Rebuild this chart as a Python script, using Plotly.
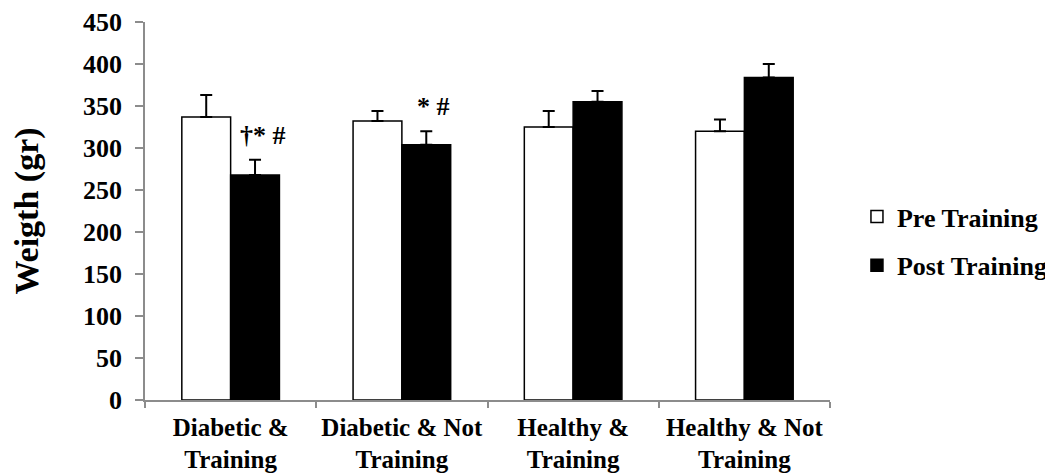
import plotly.graph_objects as go

categories = ["Diabetic &<br>Training", "Diabetic & Not<br>Training", "Healthy &<br>Training", "Healthy & Not<br>Training"]
pre_values = [337, 332, 325, 320]
pre_errors = [26, 12, 19, 14]
post_values = [268, 304, 355, 384]
post_errors = [18, 16, 13, 16]
y_ticks = [0, 50, 100, 150, 200, 250, 300, 350, 400, 450]
marks = ["†* #", "* #", "", ""]
mark_y = [315, 350, None, None]

FONT = "Liberation Serif, Times New Roman, serif"
AXIS_GRAY = "#8c8c8c"

fig = go.Figure()
fig.add_trace(go.Bar(
    name="<b>Pre Training</b>", x=categories, y=pre_values,
    marker=dict(color="white", line=dict(color="black", width=1.5)),
    error_y=dict(type="data", array=pre_errors, arrayminus=[0]*4, symmetric=False,
                 color="black", thickness=2, width=6),
    legendgroup="pre",
))
fig.add_trace(go.Bar(
    name="<b>Post Training</b>", x=categories, y=post_values,
    marker=dict(color="black", line=dict(color="black", width=1.5)),
    error_y=dict(type="data", array=post_errors, arrayminus=[0]*4, symmetric=False,
                 color="black", thickness=2, width=6),
    legendgroup="post",
))

for c, m, yy in zip(categories, marks, mark_y):
    if m:
        fig.add_annotation(x=c, y=yy, xref="x", yref="y", text="<b>" + m + "</b>",
                           showarrow=False, xshift=32,
                           font=dict(family=FONT, size=26, color="black"))

fig.update_layout(
    width=1045, height=467,
    margin=dict(l=137, r=223, t=14, b=75, autoexpand=False),
    paper_bgcolor="white", plot_bgcolor="white",
    barmode="group", bargap=0.43, bargroupgap=0,
    font=dict(family=FONT, color="black"),
    showlegend=True,
    legend=dict(xref="container", yref="container", x=0.8124, y=0.501,
                xanchor="left", yanchor="middle",
                font=dict(family=FONT, size=26, color="black"),
                tracegroupgap=12, bgcolor="rgba(0,0,0,0)"),
    xaxis=dict(
        automargin=False, tickangle=0,
        showline=True, linecolor=AXIS_GRAY, linewidth=1.5,
        ticks="outside", tickson="boundaries", ticklen=6, tickcolor=AXIS_GRAY, tickwidth=1.5,
        tickfont=dict(family=FONT, size=25, color="black"),
        tickprefix="<b>", ticksuffix="</b>", ticklabelstandoff=4,
        showgrid=False,
    ),
    yaxis=dict(
        automargin=False,
        range=[0, 450], tickvals=y_ticks,
        ticktext=["<b>%d</b>" % v for v in y_ticks],
        showline=True, linecolor=AXIS_GRAY, linewidth=1.5,
        ticks="outside", ticklen=8, tickcolor=AXIS_GRAY, tickwidth=1.5,
        tickfont=dict(family=FONT, size=26, color="black"), ticklabelstandoff=8,
        showgrid=False, zeroline=False,
        title=dict(text="<b>Weigth (gr)</b>", font=dict(family=FONT, size=34, color="black"), standoff=36),
    ),
)

fig.write_html("out.html")
